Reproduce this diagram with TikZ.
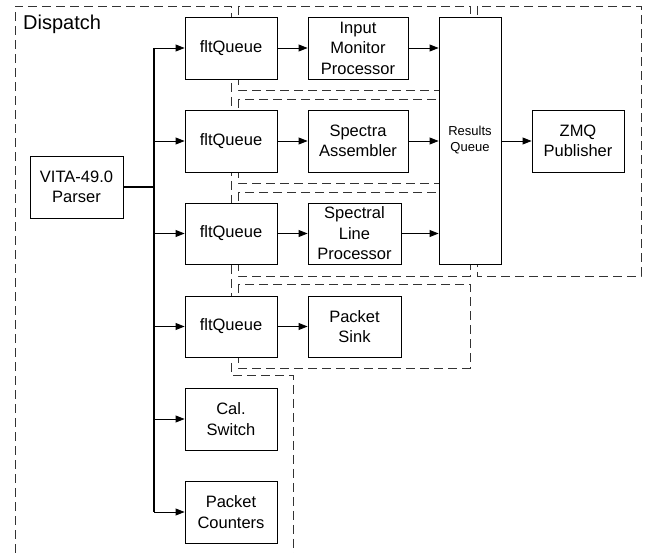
\documentclass[tikz,border=0pt]{standalone}
\usepackage{fontspec}
\setmainfont{Liberation Sans}
\usetikzlibrary{arrows.meta}
\begin{document}
\begin{tikzpicture}[x=1pt,y=-1pt,
  box/.style={draw=black,line width=0.9pt,fill=white,inner sep=0pt,align=center,
    font=\fontsize{16.5}{20.5}\selectfont},
  grp/.style={draw=black!80,line width=0.9pt,dash pattern=on 9pt off 5pt},
  arr/.style={draw=black,line width=0.9pt,-{Triangle[length=9pt,width=7pt]}},
  bus/.style={draw=black,line width=1.8pt}]
\useasboundingbox (0,0) rectangle (649,553);
% dashed groups
\draw[grp] (15,553) -- (15,6) -- (231,6) -- (231,375) -- (293,375) -- (293,553);
\draw[grp] (238,6) rectangle (470,90);
\draw[grp] (238,99) rectangle (470,183);
\draw[grp] (238,192) rectangle (470,276);
\draw[grp] (238,284) rectangle (470,368);
\draw[grp] (477,6) rectangle (641,276);
\node[anchor=base west,inner sep=0pt,font=\fontsize{20}{24}\selectfont] (dlabel) at (23,30) {Dispatch};
% nodes
\node[box,minimum width=93,minimum height=62] (parser) at (76.5,187) {VITA-49.0\\Parser};
\node[box,minimum width=92,minimum height=62] (fq1) at (231,48) {fltQueue};
\node[box,minimum width=92,minimum height=62] (fq2) at (231,141) {fltQueue};
\node[box,minimum width=92,minimum height=61] (fq3) at (231,233.5) {fltQueue};
\node[box,minimum width=92,minimum height=61] (fq4) at (231,326.5) {fltQueue};
\node[box,minimum width=92,minimum height=62] (cal) at (231,419) {Cal.\\Switch};
\node[box,minimum width=92,minimum height=62] (pc) at (231,512) {Packet\\Counters};
\node[box,minimum width=100,minimum height=62] (imp) at (358,48) {Input\\Monitor\\Processor};
\node[box,minimum width=100,minimum height=62] (sa) at (358,141) {Spectra\\Assembler};
\node[box,minimum width=93,minimum height=61] (slp) at (354.5,233.5) {Spectral\\Line\\Processor};
\node[box,minimum width=93,minimum height=61] (ps) at (354.5,326.5) {Packet\\Sink};
\node[box,minimum width=62,minimum height=247,font=\fontsize{13}{16}\selectfont] (rq) at (470,140.5) {Results\\Queue};
\node[box,minimum width=92,minimum height=62] (zmq) at (578,141) {ZMQ\\Publisher};
% bus
\coordinate (bj) at (154,187);
\draw[bus] (parser.east) -- (bj);
\draw[bus] (bj |- fq1.west) -- (bj |- pc.west);
\foreach \n in {fq1,fq2,fq3,fq4,cal,pc}
  \draw[arr] (bj |- \n.west) -- (\n.west);
\draw[arr] (fq1.east) -- (imp.west);
\draw[arr] (fq2.east) -- (sa.west);
\draw[arr] (fq3.east) -- (slp.west);
\draw[arr] (fq4.east) -- (ps.west);
\draw[arr] (imp.east) -- (imp.east -| rq.west);
\draw[arr] (sa.east) -- (sa.east -| rq.west);
\draw[arr] (slp.east) -- (slp.east -| rq.west);
\draw[arr] (zmq.west -| rq.east) -- (zmq.west);
\end{tikzpicture}
\end{document}
